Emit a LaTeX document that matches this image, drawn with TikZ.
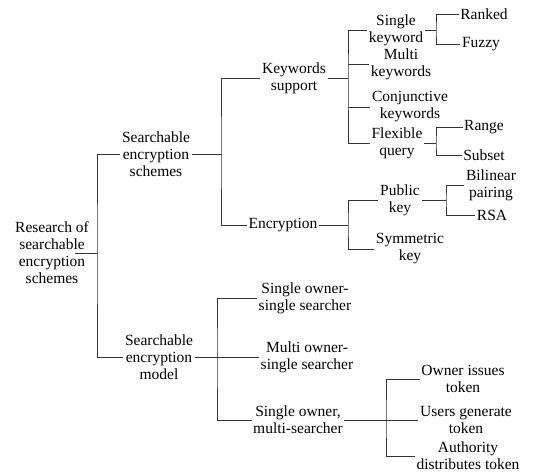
\documentclass[tikz,border=0pt]{standalone}
\usepackage{fontspec}
\setmainfont{Liberation Serif}
\begin{document}
\begin{tikzpicture}[x=1pt,y=-1pt,
  lbl/.style={align=center,inner xsep=1.5pt,inner ysep=0pt,font=\fontsize{15.5}{17}\selectfont},
  conn/.style={draw=black!80,line width=0.9pt}]
\useasboundingbox (0,0) rectangle (551,476);
% nodes
\node[lbl] (root) at (52,253) {Research of\\searchable\\encryption\\schemes};
\node[lbl] (ses) at (156,154) {Searchable\\encryption\\schemes};
\node[lbl] (sem) at (159,357) {Searchable\\encryption\\model};
\node[lbl] (ks) at (294,78) {Keywords\\support};
\node[lbl] (enc) at (283,225) {Encryption};
\node[lbl] (sk) at (396,30) {Single\\keyword};
\node[lbl] (mk) at (401,64) {Multi\\keywords};
\node[lbl] (ck) at (410,107) {Conjunctive\\keywords};
\node[lbl] (fq) at (397,143) {Flexible\\query};
\node[lbl] (ranked) at (484,14) {Ranked};
\node[lbl] (fuzzy) at (481,44) {Fuzzy};
\node[lbl] (range) at (484,127) {Range};
\node[lbl] (subset) at (484,155) {Subset};
\node[lbl] (pk) at (400,200) {Public\\key};
\node[lbl] (symk) at (410,249) {Symmetric\\key};
\node[lbl] (bp) at (491,185) {Bilinear\\pairing};
\node[lbl] (rsa) at (492,215) {RSA};
\node[lbl] (sos) at (305,298) {Single owner-\\single searcher};
\node[lbl] (mos) at (307,357) {Multi owner-\\single searcher};
\node[lbl] (som) at (298,420) {Single owner,\\multi-searcher};
\node[lbl] (oit) at (463,379) {Owner issues\\token};
\node[lbl] (ugt) at (466,420) {Users generate\\token};
\node[lbl] (adt) at (468,456) {Authority\\distributes token};
% junctions
\coordinate (jr) at (97,253);
\coordinate (jses) at (221,154);
\coordinate (jks) at (348,78);
\coordinate (jsk) at (436,30);
\coordinate (jfq) at (436,143);
\coordinate (jenc) at (348,225);
\coordinate (jpk) at (446,200);
\coordinate (jsem) at (217,357);
\coordinate (jsom) at (386,420);
% connectors
\draw[conn] ([xshift=-15pt]root.east) -- (jr);
\draw[conn] (ses.west) -| (jr) |- (sem.west);
\draw[conn] (ses.east) -- (jses);
\draw[conn] (ks.west) -| (jses) |- (enc.west);
\draw[conn] (ks.east) -- (jks);
\draw[conn] (sk.west) -| (jks) |- (fq.west);
\draw[conn] (jks |- mk) -- (mk.west);
\draw[conn] (jks |- ck) -- (ck.west);
\draw[conn] (sk.east) -- (jsk);
\draw[conn] (ranked.west) -| (jsk) |- (fuzzy.west);
\draw[conn] (fq.east) -- (jfq);
\draw[conn] (range.west) -| (jfq) |- (subset.west);
\draw[conn] (enc.east) -- (jenc);
\draw[conn] (pk.west) -| (jenc) |- (symk.west);
\draw[conn] (pk.east) -- (jpk);
\draw[conn] (bp.west) -| (jpk) |- (rsa.west);
\draw[conn] (sem.east) -- (mos.west);
\draw[conn] (sos.west) -| (jsem) |- (som.west);
\draw[conn] (som.east) -- (ugt.west);
\draw[conn] (oit.west) -| (jsom) |- (adt.west);
\end{tikzpicture}
\end{document}
